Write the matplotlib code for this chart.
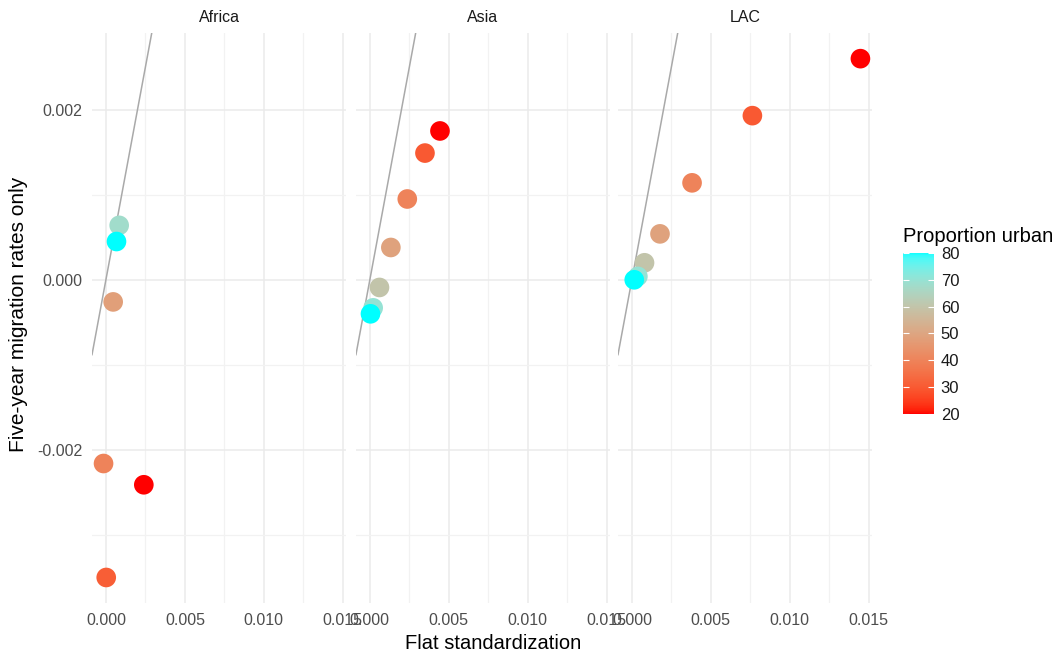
import matplotlib
matplotlib.use("Agg")
import matplotlib.pyplot as plt
import numpy as np
from matplotlib.colors import ListedColormap, Normalize
from matplotlib.ticker import MultipleLocator, FuncFormatter

# values
regions = ["Africa", "Asia", "LAC"]

africa_x = [0.00084, -0.00015, 0.00046, 0.00002, 0.0024, 0.00067]
africa_y = [0.00064, -0.00216, -0.00026, -0.0035, -0.00241, 0.00045]
africa_urban = [68, 40, 48, 31, 20, 80]

asia_x = [0.00444, 0.00349, 0.00237, 0.00133, 0.00061, 0.00021, 0.00004]
asia_y = [0.00175, 0.00149, 0.00095, 0.00038, -0.00009, -0.00033, -0.0004]
asia_urban = [20, 30, 40, 49, 60, 70, 80]

lac_x = [0.01447, 0.00763, 0.00381, 0.00178, 0.0008, 0.00038, 0.00015]
lac_y = [0.0026, 0.00193, 0.00114, 0.00054, 0.0002, 0.00004, 0.0]
lac_urban = [20, 30, 40, 49, 60, 70, 80]

urban_limits = (20, 80)
urban_ticks = [20, 30, 40, 50, 60, 70, 80]
x_ticks = [0.0, 0.005, 0.010, 0.015]
y_ticks = [-0.002, 0.0, 0.002]


# ggplot-like gradient: red -> cyan, interpolated in Lab space
def srgb_to_lab(rgb):
    rgb = np.asarray(rgb, float)
    lin = np.where(rgb <= 0.04045, rgb / 12.92, ((rgb + 0.055) / 1.055) ** 2.4)
    m = np.array([[0.4124, 0.3576, 0.1805],
                  [0.2126, 0.7152, 0.0722],
                  [0.0193, 0.1192, 0.9505]])
    xyz = m @ lin / np.array([0.95047, 1.0, 1.08883])
    f = np.where(xyz > 0.008856, np.cbrt(xyz), 7.787 * xyz + 16 / 116)
    return np.array([116 * f[1] - 16, 500 * (f[0] - f[1]), 200 * (f[1] - f[2])])


def lab_to_srgb(lab):
    L, a, b = lab
    fy = (L + 16) / 116
    fx = fy + a / 500
    fz = fy - b / 200
    f = np.array([fx, fy, fz])
    xyz = np.where(f ** 3 > 0.008856, f ** 3, (f - 16 / 116) / 7.787)
    xyz = xyz * np.array([0.95047, 1.0, 1.08883])
    m = np.array([[3.2406, -1.5372, -0.4986],
                  [-0.9689, 1.8758, 0.0415],
                  [0.0557, -0.2040, 1.0570]])
    lin = m @ xyz
    rgb = np.where(lin <= 0.0031308, 12.92 * lin, 1.055 * np.clip(lin, 0, None) ** (1 / 2.4) - 0.055)
    return np.clip(rgb, 0, 1)


low = srgb_to_lab([1, 0, 0])
high = srgb_to_lab([0, 1, 1])
cmap = ListedColormap([lab_to_srgb(low + t * (high - low)) for t in np.linspace(0, 1, 256)])
norm = Normalize(*urban_limits)

plt.rcParams['font.family'] = ['Liberation Sans', 'DejaVu Sans']

fig = plt.figure(figsize=(10.6, 6.55), dpi=100)
data = {
    "Africa": (africa_x, africa_y, africa_urban),
    "Asia": (asia_x, asia_y, asia_urban),
    "LAC": (lac_x, lac_y, lac_urban),
}
lefts = [0.0868, 0.3358, 0.583]
axes = []
for i, name in enumerate(regions):
    ax = fig.add_axes([lefts[i], 0.0794, 0.2396, 0.870], sharey=axes[0] if axes else None)
    axes.append(ax)
    x, y, u = data[name]
    ax.set_xlim(-0.00088, 0.0152)
    ax.set_ylim(-0.0038, 0.0029)
    ax.xaxis.set_major_locator(plt.FixedLocator(x_ticks))
    ax.xaxis.set_minor_locator(MultipleLocator(0.0025))
    ax.yaxis.set_major_locator(plt.FixedLocator(y_ticks))
    ax.yaxis.set_minor_locator(MultipleLocator(0.001))
    ax.xaxis.set_major_formatter(FuncFormatter(lambda v, p: f"{v:.3f}"))
    ax.yaxis.set_major_formatter(FuncFormatter(lambda v, p: f"{v:.3f}"))
    ax.grid(True, which='major', color='#ebebeb', lw=1.1)
    ax.grid(True, which='minor', color='#f2f2f2', lw=0.9)
    ax.set_axisbelow(True)
    for s in ax.spines.values():
        s.set_visible(False)
    ax.tick_params(which='both', length=0, labelsize=11.5, labelcolor='#4d4d4d', pad=7)
    if i > 0:
        ax.tick_params(axis='y', labelleft=False)
    ax.axline((0, 0), slope=1, color='#a9a9a9', lw=1.1, zorder=2)
    ax.scatter(x, y, c=u, cmap=cmap, norm=norm, s=200, edgecolors='none', zorder=3)
    ax.set_title(name, fontsize=11.5, color='#1a1a1a', pad=8)

fig.text(0.017, 0.52, "Five-year migration rates only", fontsize=15, rotation=90,
         ha='center', va='center')
fig.text(0.465, 0.0183, "Flat standardization", fontsize=14.5, ha='center', va='center')

cax = fig.add_axes([0.852, 0.368, 0.029, 0.246])
sm = plt.cm.ScalarMappable(cmap=cmap, norm=norm)
cb = fig.colorbar(sm, cax=cax, ticks=urban_ticks)
cb.outline.set_visible(False)
cax.tick_params(direction='in', color='white', length=4, width=0.8, left=True, right=True,
                labelsize=12, labelcolor='#1a1a1a', pad=5)
cax.set_title("Proportion urban", fontsize=14.5, loc='left', pad=8)

fig.savefig("out.png", dpi=100)
